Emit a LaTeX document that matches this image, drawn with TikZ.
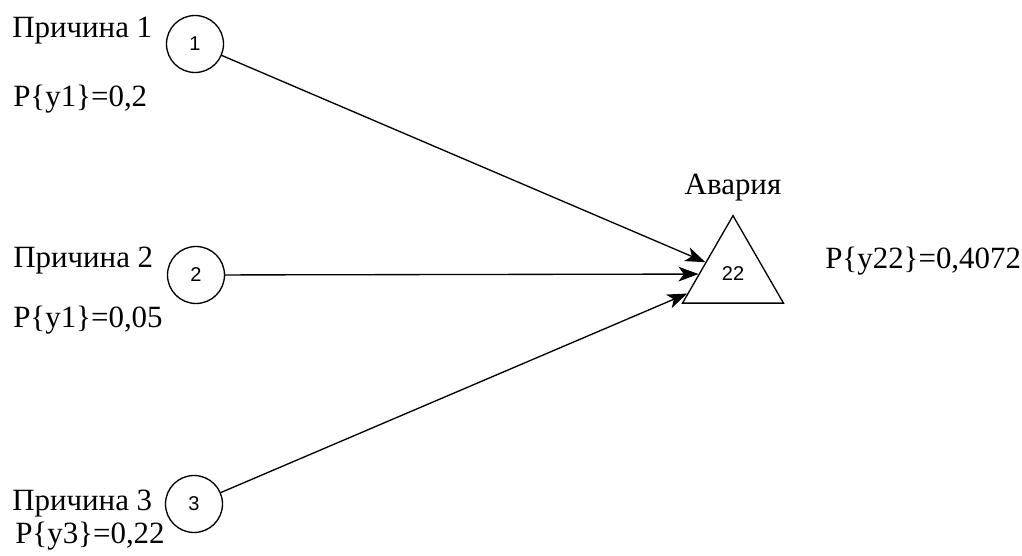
\documentclass[tikz,border=0pt]{standalone}
\usepackage{fontspec}
\setmainfont{Liberation Serif}
\newfontfamily\lblfont{Liberation Sans}
\usetikzlibrary{shapes.geometric,arrows.meta}
\begin{document}
\begin{tikzpicture}[x=0.75pt,y=-0.75pt,
  txt/.style={inner sep=0pt,anchor=base west,font=\fontsize{23.2}{27}\selectfont},
  cause/.style={draw,circle,line width=1pt,minimum size=42.75pt,inner sep=0pt,font=\lblfont\fontsize{15}{18}\selectfont},
  event/.style={draw,regular polygon,regular polygon sides=3,minimum size=87.5pt,inner sep=0pt,line width=1pt,font=\lblfont\fontsize{15}{18}\selectfont},
  link/.style={line width=1pt,-{Stealth[length=15pt,width=11pt,inset=4pt]}}]
\useasboundingbox (0,0) rectangle (1022,556);
\node[cause] (c1) at (195,44) {1};
\node[cause] (c2) at (196,275) {2};
\node[cause] (c3) at (194,504) {3};
\node[event] (t) at (733,274) {22};
\node[txt] (l1) at (12,38) {Причина 1};
\node[txt] (p1) at (13,107) {P\{y1\}=0,2};
\node[txt] (l2) at (13,268) {Причина 2};
\node[txt] (p2) at (13,327) {P\{y1\}=0,05};
\node[txt] (l3) at (12,510) {Причина 3};
\node[txt] (p3) at (15,543) {P\{y3\}=0,22};
\node[txt,anchor=base] (la) at (733,195) {Авария};
\node[txt] (pa) at (825,269) {P\{y22\}=0,4072};
\draw[link] (c1) -- (t);
\draw[link] (c2) -- (t);
\draw[link] (c3) -- (t);
\end{tikzpicture}
\end{document}
